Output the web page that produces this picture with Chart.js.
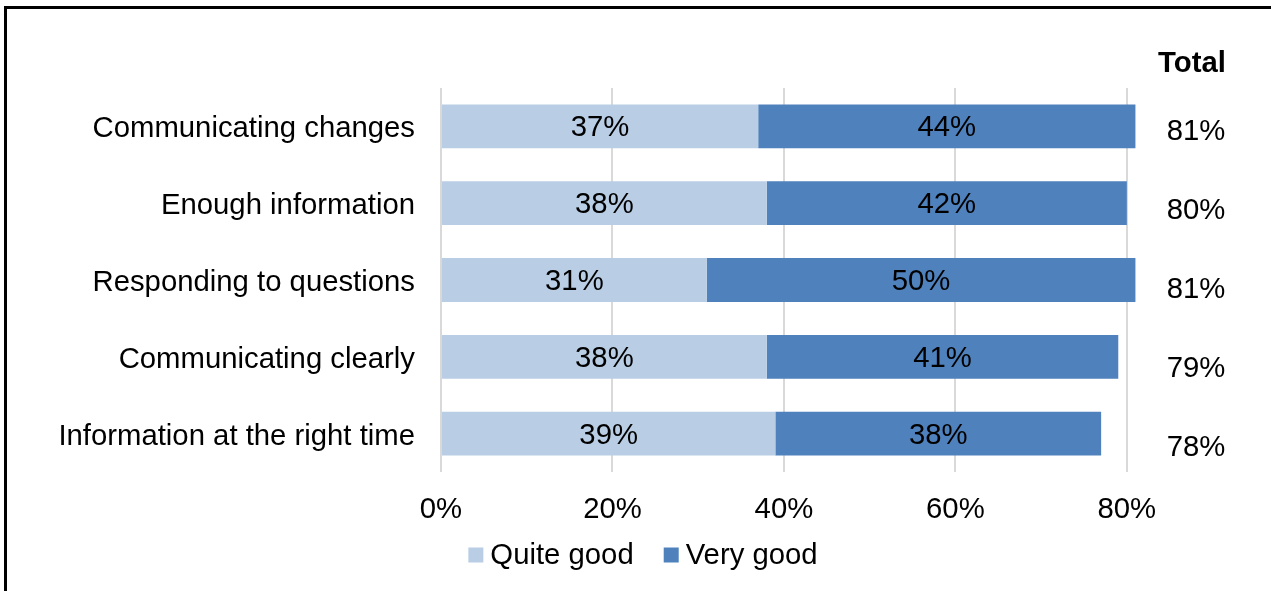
<!DOCTYPE html>
<html>
<head>
<meta charset="utf-8">
<script src="https://cdn.jsdelivr.net/npm/chart.js@4"></script>
<style>
  html, body { margin: 0; padding: 0; background: #fff; }
  #wrap { position: relative; width: 1271px; height: 591px; }
  #frame { position: absolute; left: 4px; top: 6px; right: -10px; bottom: -10px;
           border-left: 3px solid #000; border-top: 3px solid #000; pointer-events: none; }
</style>
</head>
<body>
<div id="wrap">
  <canvas id="myChart" width="1271" height="591"></canvas>
  <div id="frame"></div>
</div>
<script>
const categories = ['Communicating changes', 'Enough information', 'Responding to questions', 'Communicating clearly', 'Information at the right time'];
const quiteGood = [37, 38, 31, 38, 39];
const veryGood = [44, 42, 50, 41, 38];
const totals = [81, 80, 81, 79, 78];
const xTicks = [0, 20, 40, 60, 80];

const FONT = "'Liberation Sans', Arial, sans-serif";
const FS = 29.3;

// labels inside bars, the Total column and the legend
const labelPlugin = {
    id: 'labels',
    afterDatasetsDraw(chart) {
        const ctx = chart.ctx;
        ctx.save();
        ctx.fillStyle = '#000';
        ctx.font = FS + 'px ' + FONT;
        ctx.textAlign = 'center';
        ctx.textBaseline = 'middle';
        chart.data.datasets.forEach((ds, i) => {
            chart.getDatasetMeta(i).data.forEach((bar, j) => {
                const mid = (bar.x + bar.base) / 2;
                ctx.fillText(ds.data[j] + '%', mid, bar.y + 2);
            });
        });
        const yScale = chart.scales.y;
        const xTot = chart.chartArea.right + 52;
        totals.forEach((t, j) => {
            ctx.fillText(t + '%', xTot, yScale.getPixelForValue(j) + 6 + j * 2);
        });
        ctx.font = 'bold ' + FS + 'px ' + FONT;
        ctx.fillText('Total', xTot - 4, chart.chartArea.top - 24);

        // legend
        ctx.font = FS + 'px ' + FONT;
        ctx.textAlign = 'left';
        const box = 15, gap = 7, spacing = 30;
        const items = chart.data.datasets.map(ds => ({ text: ds.label, color: ds.backgroundColor }));
        const total = items.reduce((s, it) => s + box + gap + ctx.measureText(it.text).width, 0) + spacing * (items.length - 1);
        let x = 643 - total / 2;
        const y = 555;
        items.forEach(it => {
            ctx.fillStyle = it.color;
            ctx.fillRect(x, y - box / 2, box, box);
            ctx.fillStyle = '#000';
            ctx.fillText(it.text, x + box + gap, y + 1);
            x += box + gap + ctx.measureText(it.text).width + spacing;
        });
        ctx.restore();
    }
};

const config = {
    type: 'bar',
    data: {
        labels: categories,
        datasets: [
            {
                label: 'Quite good',
                data: quiteGood,
                backgroundColor: '#b9cde5',
                barPercentage: 0.57,
                categoryPercentage: 1
            },
            {
                label: 'Very good',
                data: veryGood,
                backgroundColor: '#4f81bd',
                barPercentage: 0.57,
                categoryPercentage: 1
            }
        ]
    },
    options: {
        indexAxis: 'y',
        responsive: false,
        animation: false,
        layout: {
            padding: { top: 88, right: 127, bottom: 57, left: 0 }
        },
        plugins: {
            legend: { display: false },
            tooltip: { enabled: false }
        },
        scales: {
            x: {
                stacked: true,
                min: 0,
                max: 82,
                border: { display: false },
                grid: { color: '#d9d9d9', lineWidth: 2, drawTicks: false },
                ticks: {
                    autoSkip: false,
                    padding: 20,
                    color: '#000',
                    font: { size: FS, family: FONT },
                    callback: v => v + '%'
                },
                afterBuildTicks(scale) {
                    scale.ticks = xTicks.map(v => ({ value: v }));
                },
                afterFit(scale) { scale.height = 62; }
            },
            y: {
                stacked: true,
                border: { display: false },
                grid: { display: false },
                ticks: {
                    padding: 18,
                    labelOffset: 3,
                    color: '#000',
                    font: { size: FS, family: FONT }
                },
                afterFit(scale) { scale.width = 441; }
            }
        }
    },
    plugins: [labelPlugin]
};

const myChart = new Chart(document.getElementById('myChart'), config);
</script>
</body>
</html>
